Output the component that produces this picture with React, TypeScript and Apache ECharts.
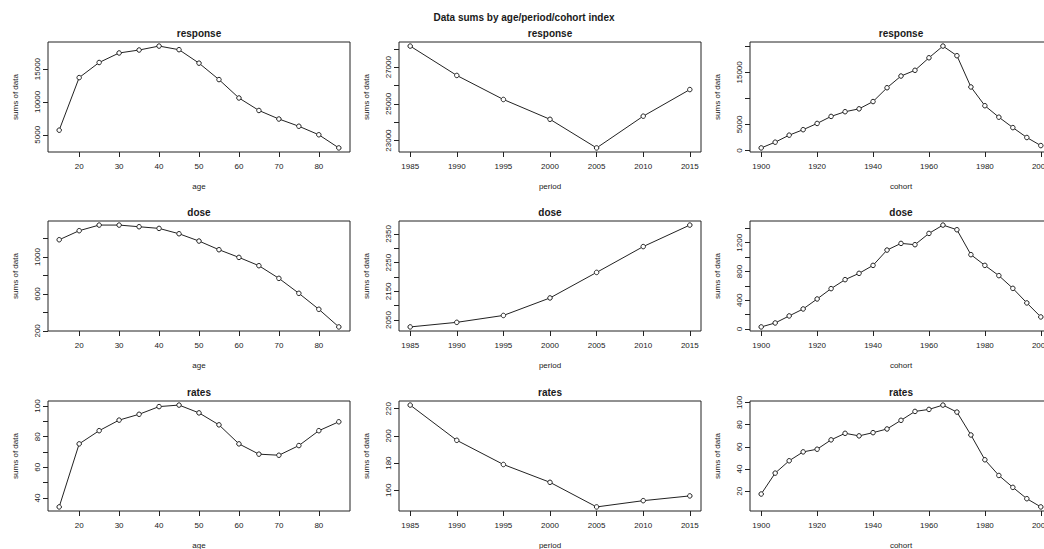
import React, { useEffect, useRef } from "react";
import * as echarts from "echarts";

// Index values for each margin
const ages = [15, 20, 25, 30, 35, 40, 45, 50, 55, 60, 65, 70, 75, 80, 85];
const periods = [1985, 1990, 1995, 2000, 2005, 2010, 2015];
const cohorts = [
  1900, 1905, 1910, 1915, 1920, 1925, 1930, 1935, 1940, 1945, 1950,
  1955, 1960, 1965, 1970, 1975, 1980, 1985, 1990, 1995, 2000,
];

// Sums of data: response
const responseByAge = [5700, 13700, 16000, 17450, 17900, 18500, 17950, 15900, 13400, 10600, 8700, 7400, 6300, 5000, 3000];
const responseByPeriod = [28150, 26550, 25240, 24160, 22600, 24330, 25780];
const responseByCohort = [
  500, 1600, 2950, 4000, 5200, 6550, 7450, 8000, 9400, 12050, 14300,
  15400, 17800, 20050, 18200, 12200, 8600, 6400, 4400, 2500, 950,
];

// Sums of data: dose
const doseByAge = [1187, 1285, 1346, 1346, 1328, 1310, 1252, 1173, 1079, 996, 906, 769, 607, 434, 243];
const doseByPeriod = [2026, 2042, 2066, 2127, 2216, 2306, 2381];
const doseByCohort = [
  28, 83, 181, 278, 417, 561, 686, 774, 885, 1098, 1191,
  1173, 1330, 1446, 1381, 1034, 885, 742, 565, 362, 167,
];

// Sums of data: rates
const ratesByAge = [34.2, 75.3, 83.9, 90.8, 94.6, 99.6, 100.6, 95.5, 87.7, 75.3, 68.6, 67.9, 74.2, 83.9, 89.7];
const ratesByPeriod = [222.7, 196.8, 179.0, 165.9, 147.8, 152.4, 155.9];
const ratesByCohort = [
  17.6, 36.4, 47.5, 55.5, 57.9, 66.3, 72.2, 69.9, 72.8, 76.1, 83.9,
  91.9, 93.7, 97.6, 91.3, 70.7, 48.4, 34.3, 23.6, 13.4, 6.0,
];

// X-axis tick positions
const ageTicks = [20, 30, 40, 50, 60, 70, 80];
const periodTicks = [1985, 1990, 1995, 2000, 2005, 2010, 2015];
const cohortTicks = [1900, 1920, 1940, 1960, 1980, 2000];

// Y-axis tick positions and the subset that carries labels
const responseAgeTicks = [5000, 10000, 15000];
const responseAgeLabels = [5000, 10000, 15000];
const responsePeriodTicks = [23000, 24000, 25000, 26000, 27000, 28000];
const responsePeriodLabels = [23000, 25000, 27000];
const responseCohortTicks = [0, 5000, 10000, 15000, 20000];
const responseCohortLabels = [0, 5000, 15000];
const doseAgeTicks = [200, 400, 600, 800, 1000, 1200];
const doseAgeLabels = [200, 600, 1000];
const dosePeriodTicks = [2050, 2100, 2150, 2200, 2250, 2300, 2350];
const dosePeriodLabels = [2050, 2150, 2250, 2350];
const doseCohortTicks = [0, 200, 400, 600, 800, 1000, 1200, 1400];
const doseCohortLabels = [0, 400, 800, 1200];
const ratesAgeTicks = [40, 50, 60, 70, 80, 90, 100];
const ratesAgeLabels = [40, 60, 80, 100];
const ratesPeriodTicks = [160, 180, 200, 220];
const ratesPeriodLabels = [160, 180, 200, 220];
const ratesCohortTicks = [20, 40, 60, 80, 100];
const ratesCohortLabels = [20, 40, 60, 80, 100];

const panelTitles = ["response", "dose", "rates"];
const xNames = ["age", "period", "cohort"];
const mainTitle = "Data sums by age/period/cohort index";
const yName = "sums of data";

const FONT = '"Liberation Sans", Arial, Helvetica, sans-serif';
const INK = "#1a1a1a";

const COL_LEFT = [48, 399, 750];
const ROW_TOP = [42, 221, 401];
const PANEL_W = 302;
const PANEL_H = 110;

function padRange(vals: number[]): [number, number] {
  const lo = Math.min(...vals);
  const hi = Math.max(...vals);
  const d = (hi - lo) * 0.04;
  return [lo - d, hi + d];
}

const plain = (v: number) => String(v);

function buildOption() {
  const xs = [ages, periods, cohorts];
  const xTicks = [ageTicks, periodTicks, cohortTicks];
  const ys = [
    [responseByAge, responseByPeriod, responseByCohort],
    [doseByAge, doseByPeriod, doseByCohort],
    [ratesByAge, ratesByPeriod, ratesByCohort],
  ];
  const yTicks = [
    [responseAgeTicks, responsePeriodTicks, responseCohortTicks],
    [doseAgeTicks, dosePeriodTicks, doseCohortTicks],
    [ratesAgeTicks, ratesPeriodTicks, ratesCohortTicks],
  ];
  const yLabels = [
    [responseAgeLabels, responsePeriodLabels, responseCohortLabels],
    [doseAgeLabels, dosePeriodLabels, doseCohortLabels],
    [ratesAgeLabels, ratesPeriodLabels, ratesCohortLabels],
  ];

  const grid: any[] = [];
  const xAxis: any[] = [];
  const yAxis: any[] = [];
  const series: any[] = [];
  const graphic: any[] = [
    {
      type: "text",
      x: 524,
      y: 17,
      style: {
        text: mainTitle,
        fontFamily: FONT,
        fontSize: 10,
        fontWeight: "bold",
        fill: INK,
        align: "center",
        verticalAlign: "middle",
      },
    },
  ];

  for (let r = 0; r < 3; r++) {
    for (let c = 0; c < 3; c++) {
      const i = grid.length;
      const xv = xs[c];
      const yv = ys[r][c];
      const [xMin, xMax] = padRange(xv);
      const [yMin, yMax] = padRange(yv);

      grid.push({
        left: COL_LEFT[c],
        top: ROW_TOP[r],
        width: PANEL_W,
        height: PANEL_H,
        outerBoundsMode: "none",
        containLabel: false,
        show: true,
        borderColor: "#222",
        borderWidth: 1,
        backgroundColor: "transparent",
      });

      xAxis.push({
        type: "value",
        gridIndex: i,
        min: xMin,
        max: xMax,
        axisLine: { show: false, onZero: false },
        axisTick: {
          show: true,
          length: 5,
          customValues: xTicks[c],
          lineStyle: { color: "#222", width: 1 },
        },
        axisLabel: {
          customValues: xTicks[c],
          formatter: plain,
          margin: 10,
          fontSize: 8,
          fontFamily: FONT,
          color: INK,
        },
        splitLine: { show: false },
        name: xNames[c],
        nameLocation: "middle",
        nameGap: 30,
        nameTextStyle: { fontSize: 8, fontFamily: FONT, color: INK },
      });

      yAxis.push({
        type: "value",
        gridIndex: i,
        min: yMin,
        max: yMax,
        axisLine: { show: false, onZero: false },
        axisTick: {
          show: true,
          length: 5,
          customValues: yTicks[r][c],
          lineStyle: { color: "#222", width: 1 },
        },
        axisLabel: {
          customValues: yLabels[r][c],
          formatter: plain,
          rotate: 90,
          margin: 7,
          fontSize: 8,
          fontFamily: FONT,
          color: INK,
        },
        splitLine: { show: false },
        name: yName,
        nameLocation: "middle",
        nameGap: 29,
        nameTextStyle: { fontSize: 8, fontFamily: FONT, color: INK },
      });

      series.push({
        type: "line",
        xAxisIndex: i,
        yAxisIndex: i,
        data: xv.map((x, j) => [x, yv[j]]),
        symbol: "circle",
        symbolSize: 4.5,
        showSymbol: true,
        lineStyle: { color: "#222", width: 1 },
        itemStyle: { color: "#ffffff", borderColor: "#222", borderWidth: 1 },
        emphasis: { disabled: true },
      });

      graphic.push({
        type: "text",
        x: COL_LEFT[c] + PANEL_W / 2,
        y: ROW_TOP[r] - 9,
        style: {
          text: panelTitles[r],
          fontFamily: FONT,
          fontSize: 10,
          fontWeight: "bold",
          fill: INK,
          align: "center",
          verticalAlign: "middle",
        },
      });
    }
  }

  return {
    animation: false,
    backgroundColor: "#ffffff",
    grid,
    xAxis,
    yAxis,
    series,
    graphic,
  };
}

export default function App() {
  const ref = useRef<HTMLDivElement>(null);

  useEffect(() => {
    if (!ref.current) return;
    const chart = echarts.init(ref.current, undefined, { renderer: "svg" });
    chart.setOption(buildOption() as any);
    return () => {
      chart.dispose();
    };
  }, []);

  return (
    <div
      ref={ref}
      style={{
        position: "absolute",
        left: 0,
        top: 0,
        width: 1044,
        height: 549,
        background: "#ffffff",
      }}
    />
  );
}
